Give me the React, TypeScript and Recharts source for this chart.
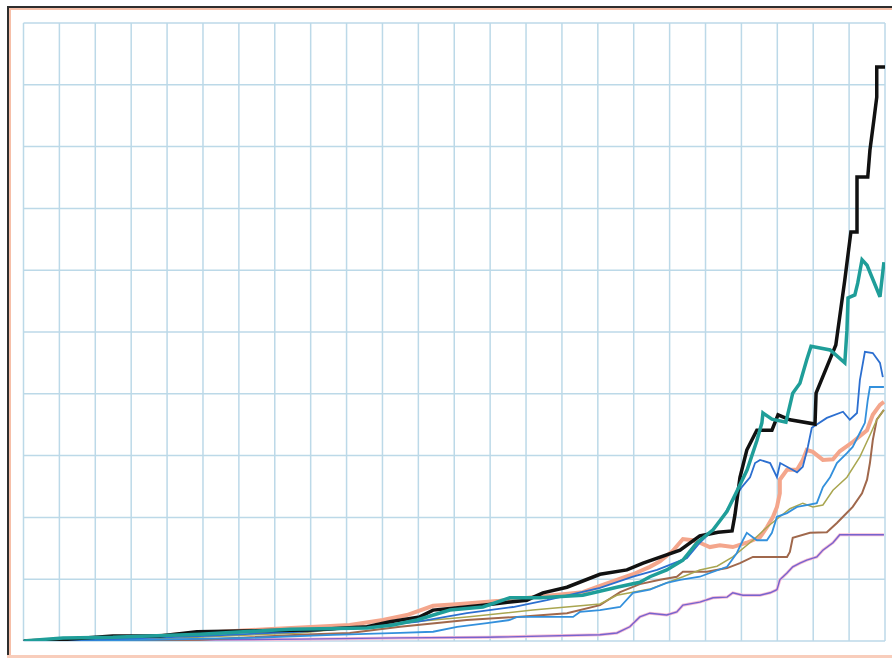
import React from 'react';
import { LineChart, Line, XAxis, YAxis, CartesianGrid } from 'recharts';

type P = [number, number];

const xTicks = [0, 1, 2, 3, 4, 5, 6, 7, 8, 9, 10, 11, 12, 13, 14, 15, 16, 17, 18, 19, 20, 21, 22, 23, 24];
const yTicks = [0, 1, 2, 3, 4, 5, 6, 7, 8, 9, 10];

const blackPts: P[] = [
  [0, 0], [1.02, 0.02], [2.49, 0.08], [3.8, 0.08], [4.83, 0.15], [7.98, 0.18], [9.57, 0.23],
  [10.21, 0.31], [11.04, 0.39], [11.41, 0.5], [12.8, 0.58], [14.02, 0.66], [14.47, 0.78],
  [15.14, 0.87], [16.06, 1.08], [16.81, 1.15], [17.26, 1.26], [18.29, 1.47], [18.84, 1.7],
  [19.35, 1.76], [19.74, 1.78], [19.82, 2.04], [19.96, 2.65], [20.15, 3.09], [20.43, 3.41],
  [20.85, 3.41], [21.02, 3.66], [21.35, 3.58], [22.05, 3.51], [22.08, 4.01], [22.46, 4.55],
  [22.63, 4.79], [22.88, 5.84], [23.05, 6.62], [23.22, 6.62], [23.22, 7.51], [23.52, 7.51],
  [23.58, 7.94], [23.69, 8.43], [23.77, 8.8], [23.77, 9.29], [24.0, 9.29],
];

const tealPts: P[] = [
  [0, 0], [1.1, 0.05], [2.49, 0.06], [4.92, 0.11], [7.42, 0.19], [9.57, 0.21], [10.29, 0.26],
  [10.96, 0.34], [11.88, 0.5], [12.8, 0.55], [13.55, 0.7], [14.39, 0.7], [15.58, 0.74],
  [16.53, 0.87], [17.17, 0.95], [17.45, 1.04], [17.92, 1.15], [18.37, 1.31], [18.76, 1.59],
  [19.21, 1.8], [19.6, 2.1], [19.88, 2.43], [20.16, 2.77], [20.43, 3.24], [20.57, 3.53],
  [20.6, 3.69], [20.85, 3.59], [21.24, 3.54], [21.43, 4.01], [21.63, 4.17], [21.82, 4.55],
  [21.94, 4.77], [22.47, 4.71], [22.88, 4.5], [22.94, 5.03], [22.97, 5.55], [23.16, 5.6],
  [23.24, 5.79], [23.36, 6.17], [23.5, 6.08], [23.86, 5.57], [23.97, 6.13],
];

const blueAPts: P[] = [
  [0, 0], [2.49, 0.03], [4.92, 0.08], [7.7, 0.15], [9.57, 0.23], [10.96, 0.31], [12.35, 0.45],
  [13.64, 0.55], [14.58, 0.66], [16.06, 0.86], [16.98, 1.04], [17.65, 1.15], [18.48, 1.34],
  [18.84, 1.59], [19.21, 1.8], [19.46, 1.99], [19.68, 2.2], [19.87, 2.36], [20.01, 2.49],
  [20.24, 2.65], [20.38, 2.88], [20.52, 2.93], [20.8, 2.88], [20.99, 2.65], [21.08, 2.88],
  [21.42, 2.77], [21.55, 2.73], [21.71, 2.82], [21.85, 3.14], [21.96, 3.45], [22.38, 3.61],
  [22.83, 3.71], [23.02, 3.58], [23.22, 3.69], [23.3, 4.22], [23.44, 4.68], [23.66, 4.66],
  [23.86, 4.5], [23.94, 4.27],
];

const blueBPts: P[] = [
  [0, 0], [3.52, 0.02], [6.31, 0.05], [8.62, 0.1], [10.49, 0.13], [11.41, 0.15], [12.08, 0.23],
  [12.91, 0.29], [13.55, 0.34], [13.75, 0.39], [15.31, 0.39], [15.5, 0.47], [16.06, 0.5],
  [16.62, 0.55], [16.98, 0.78], [17.45, 0.83], [17.92, 0.94], [18.29, 0.99], [18.84, 1.04],
  [19.12, 1.1], [19.6, 1.2], [19.87, 1.42], [20.04, 1.63], [20.15, 1.75], [20.43, 1.63],
  [20.71, 1.63], [20.85, 1.75], [20.99, 2.01], [21.27, 2.07], [21.55, 2.17], [21.82, 2.2],
  [22.1, 2.23], [22.27, 2.49], [22.47, 2.65], [22.66, 2.88], [22.94, 3.04], [23.1, 3.14],
  [23.3, 3.37], [23.44, 3.53], [23.52, 3.9], [23.58, 4.11], [23.97, 4.11],
];

const salmonPts: P[] = [
  [0, 0], [2.69, 0.03], [4.36, 0.11], [6.78, 0.19], [9.09, 0.26], [10.01, 0.34], [10.68, 0.42],
  [11.41, 0.57], [12.16, 0.6], [13.27, 0.65], [14.19, 0.71], [15.58, 0.79], [16.06, 0.89],
  [16.53, 0.99], [16.98, 1.08], [17.45, 1.2], [17.73, 1.29], [18.09, 1.46], [18.37, 1.65],
  [18.65, 1.63], [18.84, 1.59], [19.12, 1.52], [19.4, 1.55], [19.76, 1.52], [20.15, 1.59],
  [20.52, 1.68], [20.71, 1.84], [20.88, 2.01], [20.99, 2.17], [21.07, 2.39], [21.07, 2.61],
  [21.27, 2.77], [21.55, 2.77], [21.71, 2.93], [21.82, 3.09], [21.99, 3.06], [22.27, 2.93],
  [22.55, 2.94], [22.74, 3.07], [23.1, 3.22], [23.5, 3.41], [23.66, 3.66], [23.86, 3.82],
  [23.97, 3.87],
];

const olivePts: P[] = [
  [0, 0], [3.52, 0.03], [7.7, 0.13], [10.49, 0.29], [12.35, 0.39], [14.19, 0.5], [16.06, 0.6],
  [16.53, 0.74], [17.45, 0.84], [18.37, 1.04], [18.84, 1.15], [19.32, 1.21], [19.76, 1.36],
  [20.32, 1.63], [20.71, 1.84], [21.07, 2.01], [21.35, 2.14], [21.71, 2.23], [21.99, 2.17],
  [22.27, 2.2], [22.55, 2.44], [22.94, 2.65], [23.3, 2.98], [23.58, 3.33], [23.77, 3.58],
  [23.97, 3.74],
];

const brownPts: P[] = [
  [0, 0], [4.92, 0.02], [7.7, 0.1], [9.09, 0.13], [10.49, 0.23], [12.35, 0.34], [13.75, 0.39],
  [15.14, 0.45], [16.06, 0.58], [16.62, 0.79], [17.17, 0.92], [17.73, 0.99], [18.2, 1.04],
  [18.37, 1.12], [19.04, 1.12], [19.6, 1.18], [19.96, 1.26], [20.32, 1.36], [21.27, 1.36],
  [21.35, 1.44], [21.43, 1.67], [21.91, 1.75], [22.38, 1.76], [22.66, 1.91], [22.83, 2.01],
  [23.1, 2.17], [23.36, 2.39], [23.5, 2.61], [23.58, 2.88], [23.66, 3.25], [23.77, 3.58],
  [23.97, 3.74],
];

const purplePts: P[] = [
  [0, 0], [7.7, 0.03], [10.49, 0.05], [12.91, 0.06], [16.06, 0.1], [16.53, 0.13], [16.89, 0.23],
  [17.17, 0.39], [17.45, 0.45], [17.92, 0.42], [18.2, 0.47], [18.37, 0.58], [18.84, 0.63],
  [19.21, 0.7], [19.6, 0.71], [19.76, 0.78], [20.04, 0.74], [20.52, 0.74], [20.8, 0.78],
  [20.99, 0.83], [21.07, 0.99], [21.27, 1.1], [21.43, 1.2], [21.63, 1.26], [21.82, 1.31],
  [22.1, 1.36], [22.27, 1.47], [22.55, 1.59], [22.74, 1.72], [23.97, 1.72],
];

const toData = (pts: P[]) => pts.map(([x, y]) => ({ x, y }));

const series = [
  { key: 'salmon', pts: salmonPts, color: '#f4a68c', width: 4 },
  { key: 'purpleHalo', pts: purplePts, color: '#f6bcd4', width: 3 },
  { key: 'purple', pts: purplePts, color: '#7663cf', width: 1.4 },
  { key: 'brown', pts: brownPts, color: '#a0684c', width: 2 },
  { key: 'olive', pts: olivePts, color: '#a9a650', width: 1.5 },
  { key: 'blueB', pts: blueBPts, color: '#3390dc', width: 1.8 },
  { key: 'blueA', pts: blueAPts, color: '#2c6fd0', width: 1.8 },
  { key: 'black', pts: blackPts, color: '#111111', width: 3.5 },
  { key: 'teal', pts: tealPts, color: '#1f9e99', width: 3.5 },
];

export default function App() {
  return (
    <div style={{ position: 'fixed', left: 0, top: 0, width: 892, height: 660, background: '#ffffff', overflow: 'hidden' }}>
      <div style={{ position: 'absolute', left: 0, top: 0 }}>
        <LineChart width={892} height={660} margin={{ top: 23, left: 23.5, right: 7, bottom: 19 }}>
          <CartesianGrid stroke="#bcd9e8" strokeWidth={1.5} />
          <XAxis type="number" dataKey="x" domain={[0, 24]} ticks={xTicks} hide allowDataOverflow />
          <YAxis type="number" dataKey="y" domain={[0, 10]} ticks={yTicks} hide allowDataOverflow />
          {series.map((s) => (
            <Line
              key={s.key}
              data={toData(s.pts)}
              dataKey="y"
              type="linear"
              stroke={s.color}
              strokeWidth={s.width}
              dot={false}
              activeDot={false}
              isAnimationActive={false}
            />
          ))}
        </LineChart>
      </div>
      <div style={{ position: 'absolute', left: 7, top: 6, width: 2, height: 650, background: '#2e2e2e' }} />
      <div style={{ position: 'absolute', left: 7, top: 6, width: 885, height: 2, background: '#2e2e2e' }} />
      <div style={{ position: 'absolute', left: 9, top: 8, width: 1.5, height: 648, background: '#f6bfa8' }} />
      <div style={{ position: 'absolute', left: 9, top: 8, width: 883, height: 1.5, background: '#f6bfa8' }} />
      <div style={{ position: 'absolute', left: 7, top: 655, width: 885, height: 3, background: '#f8cdbb' }} />
    </div>
  );
}
